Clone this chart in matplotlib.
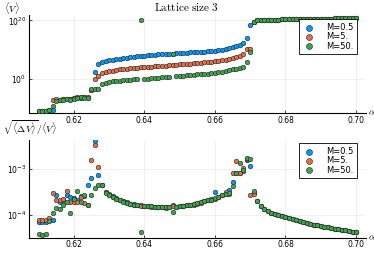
import matplotlib
matplotlib.use("agg")
import matplotlib.pyplot as plt
import numpy as np

# alpha grid (0.610 ... 0.700, step 0.001)
alpha = np.round(np.arange(0.610, 0.7005, 0.001), 3)
labels = ["M=0.5", "M=5.", "M=50."]
colors = ["#009AFA", "#E36F47", "#3EA44E"]

# log10 <V>
tail_V = [20.2, 20.2, 20.3, 20.3, 20.3, 20.3, 20.4, 20.4, 20.4, 20.4,
          20.4, 20.5, 20.5, 20.5, 20.5, 20.5, 20.6, 20.6, 20.6, 20.6,
          20.6, 20.7, 20.7, 20.7, 20.7, 20.7, 20.8, 20.8]
logV_05 = [-10.7, -10.7, -10.7, -10.6, -10.5, -7.2, -7.0, -6.9, -6.8, -6.9,
           -6.6, -6.1, -6.3, -6.0, -6.4, -3.6, 2.4, 5.3, 5.9, 6.2,
           6.4, 6.6, 6.8, 7.0, 7.2, 7.3, 7.5, 7.6, 7.8, 7.9,
           8.0, 8.1, 8.2, 8.3, 8.4, 8.5, 8.6, 8.7, 8.7, 8.8,
           8.9, 9.0, 9.0, 9.1, 9.2, 9.3, 9.3, 9.4, 9.5, 9.6,
           9.7, 9.8, 10.0, 10.3, 10.6, 10.9, 11.2, 11.7, 12.4, 14.1,
           18.3, 19.6, 20.0] + tail_V
logV_5 = [-10.7, -10.7, -10.7, -10.6, -7.2, -6.9, -7.0, -6.8, -6.7, -6.7,
          -6.6, -6.3, -6.2, -6.0, -6.0, -3.7, -0.1, 1.0, 2.1, 2.4,
          2.7, 2.9, 3.1, 3.3, 3.4, 3.6, 3.7, 3.8, 3.9, 4.0,
          4.1, 4.2, 4.3, 4.4, 4.5, 4.5, 4.6, 4.7, 4.8, 4.9,
          5.0, 5.1, 5.2, 5.3, 5.4, 5.5, 5.6, 5.7, 5.8, 5.9,
          6.1, 6.2, 6.4, 6.6, 6.9, 7.2, 7.6, 8.0, 8.5, 10.4,
          10.4, 19.6, 20.0] + tail_V
logV_50 = [-10.7, -10.7, -10.7, -10.6, -9.2, -7.5, -7.2, -7.1, -6.9, -7.1,
           -6.8, -6.4, -6.2, -6.3, -6.5, -3.4, -3.3, -3.3, -1.7, -1.2,
           -0.9, -0.7, -0.6, -0.5, -0.4, -0.3, -0.2, -0.1, -0.1, 20.0,
           0.1, 0.2, 0.3, 0.4, 0.5, 0.6, 0.7, 0.8, 8.4, 0.9,
           1.0, 1.1, 1.3, 1.4, 1.4, 1.6, 1.7, 1.8, 1.9, 2.0,
           2.1, 2.3, 2.5, 2.8, 3.1, 3.4, 3.6, 3.9, 4.3, 6.0,
           9.4, 19.6, 20.0] + tail_V

# log10 sqrt(<dV>)/<V>
tail_R = [-3.82, -3.88, -3.93, -3.96, -3.99, -4.02, -4.04, -4.06, -4.08, -4.10,
          -4.12, -4.14, -4.16, -4.18, -4.20, -4.22, -4.24, -4.25, -4.27, -4.28,
          -4.30, -4.31, -4.32, -4.34, -4.35, -4.36, -4.38, -4.39]
logR_05 = [-4.17, -4.16, -4.17, -4.13, -4.12, -3.57, -3.72, -3.69, -3.57, -3.62,
           -3.63, -3.69, -3.60, -3.60, -3.36, -3.19, -2.39, -3.12, -3.36, -3.50,
           -3.56, -3.60, -3.64, -3.68, -3.71, -3.73, -3.76, -3.77, -3.79, -3.80,
           -3.81, -3.82, -3.82, -3.83, -3.84, -3.84, -3.84, -3.83, -3.79, -3.83,
           -3.82, -3.81, -3.80, -3.79, -3.77, -3.75, -3.73, -3.71, -3.69, -3.66,
           -3.50, -3.62, -3.58, -3.55, -3.47, -3.28, -3.09, -3.09, -3.05, -2.80,
           -2.94, -3.52, -3.71] + tail_R
logR_5 = [-4.13, -4.12, -4.11, -4.08, -3.52, -3.69, -3.69, -3.65, -3.49, -3.72,
          -3.73, -3.73, -3.62, -3.75, -3.78, -2.80, -2.47, -2.95, -3.36, -3.51,
          -3.55, -3.61, -3.65, -3.69, -3.71, -3.74, -3.76, -3.78, -3.80, -3.81,
          -3.81, -3.82, -3.83, -3.83, -3.84, -3.84, -3.85, -3.84, -3.82, -3.83,
          -3.82, -3.81, -3.80, -3.79, -3.78, -3.76, -3.74, -3.71, -3.69, -3.67,
          -3.65, -3.61, -3.56, -3.50, -3.55, -3.09, -2.82, -3.09, -2.98, -2.78,
          -3.58, -3.55, -3.71] + tail_R
logR_50 = [-4.42, -4.45, -4.42, -4.14, -3.97, -3.85, -3.88, -3.78, -3.72, -3.97,
           -3.66, -3.48, -3.72, -3.58, -3.78, -3.58, -3.41, -3.36, -3.35, -3.52,
           -3.56, -3.62, -3.66, -3.69, -3.72, -3.74, -3.76, -3.78, -3.80, -4.39,
           -3.81, -3.82, -3.82, -3.83, -3.84, -3.84, -3.84, -3.83, -3.95, -3.83,
           -3.82, -3.81, -3.80, -3.79, -3.77, -3.75, -3.73, -3.71, -3.69, -3.67,
           -3.64, -3.62, -3.58, -3.55, -3.53, -3.38, -3.09, -2.87, -3.03, -2.76,
           -2.77, -3.49, -3.71] + tail_R

fig = plt.figure(figsize=(3.74, 2.56), dpi=100)
ax1 = fig.add_axes([0.0775, 0.5574, 0.9, 0.384])
ax2 = fig.add_axes([0.0775, 0.0715, 0.9, 0.3816])

def style(ax):
    ax.set_yscale("log")
    ax.set_xlim(0.6073, 0.7027)
    ax.set_xticks([0.62, 0.64, 0.66, 0.68, 0.70])
    ax.set_xticklabels(["0.62", "0.64", "0.66", "0.68", "0.70"])
    ax.spines["top"].set_visible(False)
    ax.spines["right"].set_visible(False)
    ax.spines["left"].set_linewidth(0.8)
    ax.spines["bottom"].set_linewidth(0.8)
    ax.tick_params(direction="in", length=2.5, width=0.5, labelsize=5.5, pad=2)
    ax.tick_params(which="minor", left=False, bottom=False)
    ax.grid(True, color="#000000", alpha=0.08, linewidth=0.5)
    ax.text(1.006, 0.0, r"$\alpha$", transform=ax.transAxes, fontsize=6.5,
            va="center", ha="left", math_fontfamily="cm")

for ax, series in [(ax1, [logV_05, logV_5, logV_50]), (ax2, [logR_05, logR_5, logR_50])]:
    for vals, c, lab in zip(series, colors, labels):
        ax.scatter(alpha, 10.0 ** np.array(vals), s=11, color=c, edgecolors="#222222",
                   linewidths=0.4, label=lab, zorder=3)
    style(ax)

ax1.set_ylim(10 ** -11.65, 10 ** 21.85)
ax1.set_yticks([1e0, 1e20])
ax1.set_yticklabels([r"$10^{0}$", r"$10^{20}$"])
ax2.set_ylim(10 ** -4.51, 10 ** -2.36)
ax2.set_yticks([1e-4, 1e-3])
ax2.set_yticklabels([r"$10^{-4}$", r"$10^{-3}$"])

for ax, top in [(ax1, 1 - 19 / 256), (ax2, 1 - 143 / 256)]:
    leg = ax.legend(loc="upper right", bbox_to_anchor=(357 / 374, top),
                    bbox_transform=fig.transFigure, borderaxespad=0, fontsize=6,
                    fancybox=False, framealpha=1, edgecolor="black",
                    handletextpad=1.2, labelspacing=0.05, borderpad=0.45,
                    markerscale=1.3, handlelength=1.6)
    leg.get_frame().set_linewidth(0.6)

fig.text(0.5, 1 - 7 / 256, r"$\mathrm{Lattice\ size\ 3}$", ha="center", va="center",
         fontsize=8, math_fontfamily="cm")
fig.text(0.012, 1 - 8 / 256, r"$\langle V\rangle$", ha="left", va="center",
         fontsize=7, math_fontfamily="cm")
fig.text(0.008, 1 - 128 / 256, r"$\sqrt{\langle \Delta V\rangle}/\langle V\rangle$",
         ha="left", va="center", fontsize=7, math_fontfamily="cm")

fig.savefig("out.png", dpi=100)
